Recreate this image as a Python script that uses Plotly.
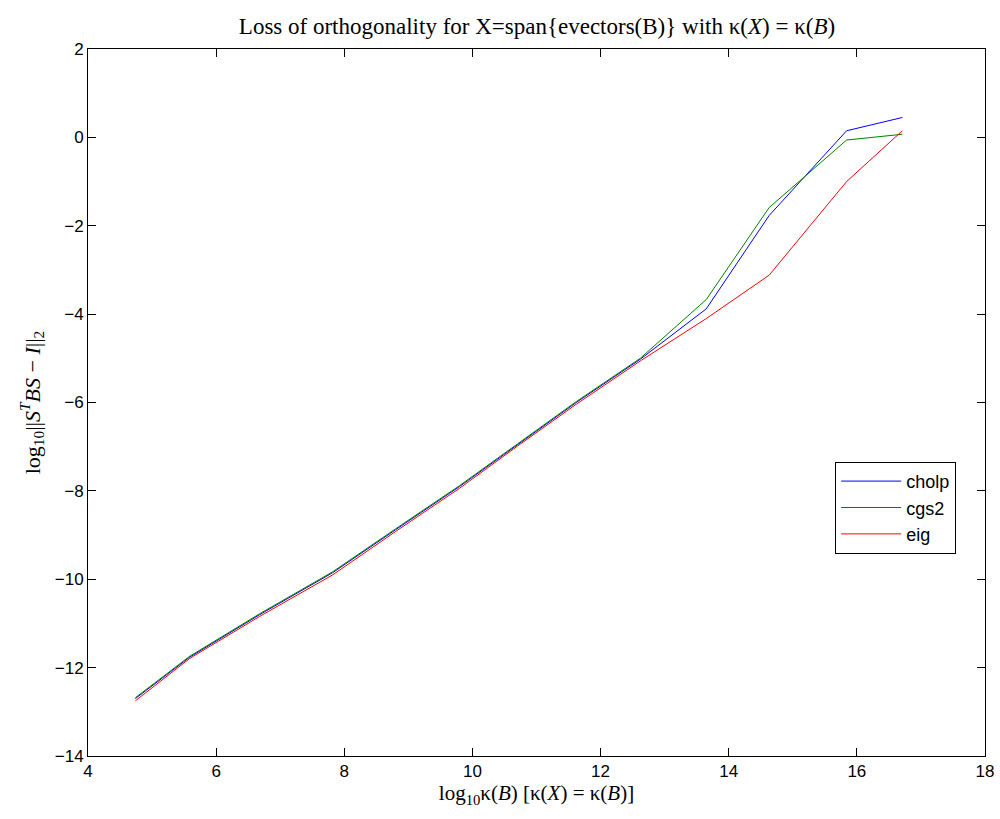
import plotly.graph_objects as go

log_kappa = [4.74, 5.59, 6.68, 7.82, 8.80, 9.80, 10.70, 11.62, 12.62, 13.65, 14.63, 15.84, 16.71]
cholp = [-12.70, -11.76, -10.80, -9.85, -8.88, -7.90, -6.96, -6.00, -5.02, -3.88, -1.77, 0.15, 0.45]
cgs2 = [-12.68, -11.74, -10.78, -9.83, -8.86, -7.88, -6.94, -5.98, -5.00, -3.67, -1.59, -0.06, 0.07]
eig = [-12.75, -11.79, -10.84, -9.90, -8.92, -7.94, -6.99, -6.04, -5.06, -4.10, -3.12, -1.00, 0.15]

series = [("cholp", cholp, "#0000ff"), ("cgs2", cgs2, "#008000"), ("eig", eig, "#ff0000")]

fig = go.Figure()
for name, vals, col in series:
    fig.add_trace(go.Scatter(x=log_kappa, y=vals, mode="lines", name=name,
                             line=dict(color=col, width=1)))

serif = "Liberation Serif, Times New Roman, serif"
sans = "Liberation Sans, Arial, sans-serif"

fig.update_layout(
    width=1000, height=819,
    margin=dict(l=88, r=15, t=49, b=63, autoexpand=False),
    paper_bgcolor="white", plot_bgcolor="white",
    title=dict(text="Loss of orthogonality for X=span{evectors(B)} with κ(<i>X</i>) = κ(<i>B</i>)",
               x=0.537, xanchor="center", y=0.968, yanchor="middle",
               font=dict(family=serif, size=23, color="black")),
    showlegend=True,
    legend=dict(x=0.833, y=0.416, xanchor="left", yanchor="top",
                bgcolor="white", bordercolor="black", borderwidth=1,
                font=dict(family=sans, size=18, color="black"),
                tracegroupgap=0, itemwidth=60),
    font=dict(family=sans, size=17, color="black"),
)
fig.update_xaxes(range=[4, 18], dtick=2, tick0=4, showgrid=False, zeroline=False,
                 showline=True, linecolor="black", linewidth=1, mirror="ticks",
                 ticks="inside", ticklen=8, tickcolor="black",
                 tickfont=dict(family=sans, size=17, color="black"),
                 title=dict(text="log<sub>10</sub>κ(<i>B</i>) [κ(<i>X</i>) = κ(<i>B</i>)]",
                            font=dict(family=serif, size=21, color="black"), standoff=4))
fig.update_yaxes(range=[-14, 2], dtick=2, tick0=-14, showgrid=False, zeroline=False,
                 showline=True, linecolor="black", linewidth=1, mirror="ticks",
                 ticks="inside", ticklen=8, tickcolor="black",
                 tickfont=dict(family=sans, size=17, color="black"),
                 title=dict(text="log<sub>10</sub>||<i>S</i><sup><i>T</i></sup><i>BS</i> − <i>I</i>||<sub>2</sub>",
                            font=dict(family=serif, size=22, color="black"), standoff=8))

fig.write_html("out.html")
